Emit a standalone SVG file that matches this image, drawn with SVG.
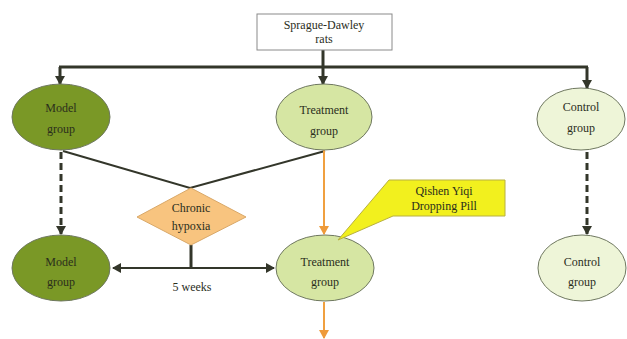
<svg xmlns="http://www.w3.org/2000/svg" width="627" height="339" viewBox="0 0 627 339">
<defs>
<style>
.t{font-family:"Liberation Serif","Times New Roman",serif;font-size:12px;fill:#2a2e1c;text-anchor:middle}
.dk{stroke:#33362a;stroke-width:3;fill:none}
.thin{stroke:#33362a;stroke-width:2;fill:none}
.or{stroke:#f0a040;stroke-width:2;fill:none}
.ell{stroke:#6f7860;stroke-width:1}
</style>
<marker id="ad" markerWidth="10" markerHeight="10" refX="8" refY="5" orient="auto" markerUnits="userSpaceOnUse"><path d="M0,0 L9,5 L0,10 z" fill="#33362a"/></marker>
<marker id="ao" markerWidth="10" markerHeight="10" refX="8" refY="5" orient="auto" markerUnits="userSpaceOnUse"><path d="M0,0 L9,5 L0,10 z" fill="#ee9a3a"/></marker>
</defs>
<rect width="627" height="339" fill="#ffffff"/>
<g id="connectors">
<line class="dk" x1="323" y1="50" x2="323" y2="67"/>
<line class="dk" x1="59" y1="67" x2="588" y2="67"/>
<line class="dk" x1="60" y1="67" x2="60" y2="84" marker-end="url(#ad)"/>
<line class="dk" x1="323" y1="67" x2="323" y2="84" marker-end="url(#ad)"/>
<line class="dk" x1="587" y1="67" x2="587" y2="88" marker-end="url(#ad)"/>
<line class="dk" x1="61" y1="152" x2="61" y2="234" stroke-dasharray="7,4" marker-end="url(#ad)"/>
<line class="dk" x1="587" y1="152" x2="587" y2="234" stroke-dasharray="7,4" marker-end="url(#ad)"/>
<polyline class="thin" points="63,151 190,188 325,151"/>
<line class="dk" x1="191" y1="245" x2="191" y2="268"/>
<line class="thin" x1="191" y1="268" x2="113" y2="268" marker-end="url(#ad)"/>
<line class="thin" x1="191" y1="268" x2="274" y2="268" marker-end="url(#ad)"/>
<line class="or" x1="324" y1="150" x2="324" y2="234" marker-end="url(#ao)"/>
<line class="or" x1="324" y1="302" x2="324" y2="338" marker-end="url(#ao)"/>
</g>
<g id="rats">
<rect x="257" y="14" width="135" height="36" fill="#ffffff" stroke="#8a8a8a" stroke-width="1"/>
<text class="t" x="324" y="29">Sprague-Dawley</text>
<text class="t" x="324" y="43">rats</text>
</g>
<g id="model1">
<ellipse class="ell" cx="61" cy="117" rx="49" ry="33" fill="#7a9826"/>
<text class="t" x="61" y="112">Model</text>
<text class="t" x="61" y="133">group</text>
</g>
<g id="treat1">
<ellipse class="ell" cx="324" cy="117" rx="48" ry="33" fill="#d6e6a3"/>
<text class="t" x="324" y="114">Treatment</text>
<text class="t" x="324" y="135">group</text>
</g>
<g id="control1">
<ellipse class="ell" cx="581" cy="119" rx="44" ry="31" fill="#eef5d8"/>
<text class="t" x="581" y="111">Control</text>
<text class="t" x="581" y="132">group</text>
</g>
<g id="hypoxia">
<polygon points="191,188 246,217 191,245 137,217" fill="#f8c47f" stroke="#d9a868" stroke-width="1"/>
<text class="t" x="191" y="212">Chronic</text>
<text class="t" x="191" y="230">hypoxia</text>
</g>
<g id="model2">
<ellipse class="ell" cx="61" cy="268" rx="49" ry="33" fill="#7a9826"/>
<text class="t" x="61" y="266">Model</text>
<text class="t" x="61" y="286">group</text>
</g>
<g id="treat2">
<ellipse class="ell" cx="325" cy="268" rx="49" ry="33" fill="#d6e6a3"/>
<text class="t" x="325" y="266">Treatment</text>
<text class="t" x="325" y="286">group</text>
</g>
<g id="control2">
<ellipse class="ell" cx="582" cy="268" rx="44" ry="33" fill="#eef5d8"/>
<text class="t" x="582" y="266">Control</text>
<text class="t" x="582" y="286">group</text>
</g>
<g id="callout">
<polygon points="389,180 505,180 505,216 393,216 338,240" fill="#f2f01e" stroke="#b8b040" stroke-width="1"/>
<text class="t" x="444" y="195">Qishen Yiqi</text>
<text class="t" x="444" y="210">Dropping Pill</text>
</g>
<g id="weeks">
<text class="t" x="192" y="291">5 weeks</text>
</g>
</svg>
